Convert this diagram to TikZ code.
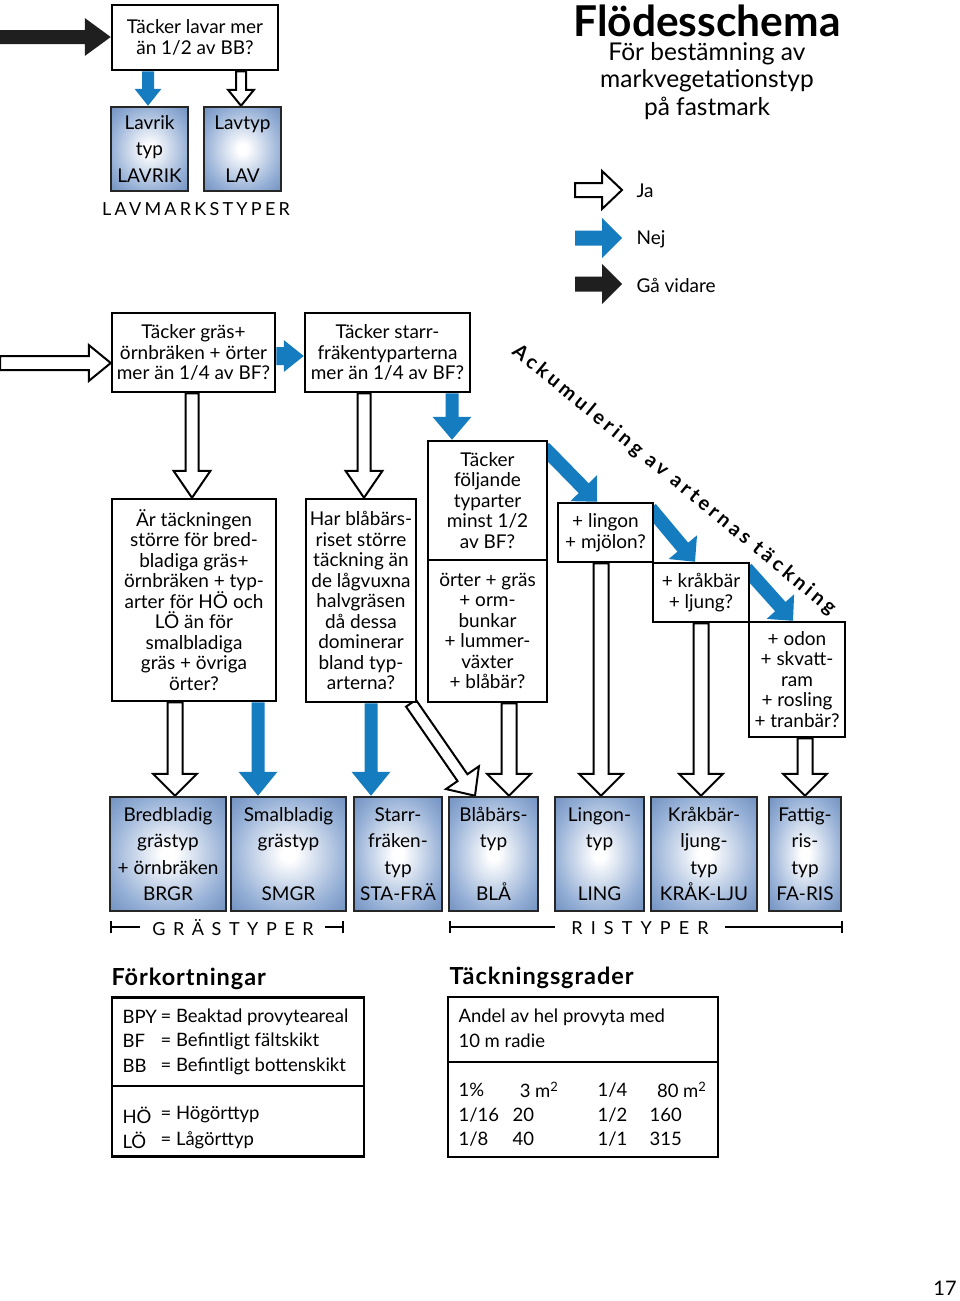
\documentclass[tikz,border=0pt]{standalone}
\usepackage{fontspec}
\setmainfont{Lato}
\usetikzlibrary{calc}
\definecolor{nblue}{RGB}{22,124,192}
\definecolor{boxblue}{RGB}{112,144,192}
\definecolor{boxmid}{RGB}{150,176,214}
\pgfdeclareradialshading{boxshade}{\pgfpoint{0bp}{0bp}}{color(0bp)=(white); color(3bp)=(white); color(25bp)=(boxmid); color(36bp)=(boxblue); color(50bp)=(boxblue)}
\pgfdeclarelayer{bg}
\pgfdeclarelayer{paper}
\pgfsetlayers{paper,bg,main}
\newcommand\qfont{\fontsize{19}{20.5}\selectfont}
\newcommand\rfont{\fontsize{19}{26.3}\selectfont}
% block arrow: style, from, to, shaft half width, head half width, head length
\newcommand\barrow[6]{%
  \coordinate (hb) at ($(#3)!#6!(#2)$);
  \path[#1] ($(#2)!#4!90:(#3)$) -- ($(hb)!#4!90:(#3)$) -- ($(hb)!#5!90:(#3)$) -- (#3)
    -- ($(hb)!#5!-90:(#3)$) -- ($(hb)!#4!-90:(#3)$) -- ($(#2)!#4!-90:(#3)$) -- cycle;}
\begin{document}
\begin{tikzpicture}[x=1pt,y=-1pt,
  every node/.style={font=\qfont},
  qbox/.style={draw, line width=2.5pt, fill=white, align=center, inner sep=0pt},
  rbox/.style={draw=black!85, line width=2.5pt, shading=boxshade, align=center, inner sep=0pt, font=\rfont},
  ja/.style={draw=black, fill=white, line width=2pt, line join=miter, miter limit=20},
  nej/.style={fill=nblue},
  go/.style={fill=black!88},
  tbl/.style={draw, line width=2.5pt, inner sep=0pt},
  span/.style={line width=1.3pt}]
\begin{pgfonlayer}{paper}
\fill[white] (0,0) rectangle (960,1301);
\end{pgfonlayer}
\useasboundingbox (0,0) rectangle (960,1301);

% ---------- title and legend ----------
\node[font=\fontsize{42.5}{42}\selectfont\bfseries] (title) at (707,21) {Flödesschema};
\node[font=\fontsize{24.5}{27.5}\selectfont, align=center] (sub) at (707,81) {För bestämning av\\markvegetationstyp\\på fastmark};
\coordinate (lj1) at (575,190); \coordinate (lj2) at (622,190);
\coordinate (ln1) at (575,238); \coordinate (ln2) at (622,238);
\coordinate (lg1) at (575,284); \coordinate (lg2) at (622,284);
\barrow{ja}{lj1}{lj2}{7pt}{19pt}{20pt}
\barrow{nej}{ln1}{ln2}{7.5pt}{20pt}{20pt}
\barrow{go}{lg1}{lg2}{7.5pt}{20pt}{20pt}
\node[anchor=west] (lja) at (633,191) {Ja};
\node[anchor=west] (lnej) at (633,239) {Nej};
\node[anchor=west] (lgo) at (633,285) {Gå vidare};

% ---------- question boxes ----------
\node[qbox, minimum width=166pt, minimum height=65pt] (q0) at (195,37.5) {Täcker lavar mer\\än 1/2 av BB?};
\node[qbox, minimum width=163pt, minimum height=79pt] (q1) at (193.5,352.5) {Täcker gräs+\\örnbräken + örter\\mer än 1/4 av BF?};
\node[qbox, minimum width=165pt, minimum height=79pt] (q2) at (387.5,352.5) {Täcker starr-\\fräkentyparterna\\mer än 1/4 av BF?};
\node[qbox, minimum width=119pt, minimum height=119pt] (q3) at (487.5,500.5) {Täcker\\följande\\typarter\\minst 1/2\\av BF?};
\node[qbox, minimum width=119pt, minimum height=142pt] (q3b) at (487.5,631) {örter + gräs\\+ orm-\\bunkar\\+ lummer-\\växter\\+ blåbär?};
\node[qbox, minimum width=164pt, minimum height=202pt] (q4) at (194,600) {Är täckningen\\större för bred-\\bladiga gräs+\\örnbräken + typ-\\arter för HÖ och\\LÖ än för\\smalbladiga\\gräs + övriga\\örter?};
\node[qbox, minimum width=110pt, minimum height=203pt] (q5) at (361,600.5) {Har blåbärs-\\riset större\\täckning än\\de lågvuxna\\halvgräsen\\då dessa\\dominerar\\bland typ-\\arterna?};
\node[qbox, minimum width=95pt, minimum height=59pt] (q6) at (605.5,532.5) {+ lingon\\+ mjölon?};
\node[qbox, minimum width=96pt, minimum height=59pt] (q7) at (701,592.5) {+ kråkbär\\+ ljung?};
\node[qbox, minimum width=96pt, minimum height=115pt] (q8) at (797,679.5) {+ odon\\+ skvatt-\\ram\\+ rosling\\+ tranbär?};

% ---------- result boxes ----------
\node[rbox, minimum width=77pt, minimum height=84pt, text depth=-7pt] (lavrik) at (149.5,149) {Lavrik\\typ\\LAVRIK};
\node[rbox, minimum width=77pt, minimum height=84pt, text depth=-7pt] (lav) at (242.5,149) {Lavtyp\\\mbox{}\\LAV};
\node[font=\fontsize{18}{18}\selectfont\addfontfeature{LetterSpace=18}] (lavm) at (196,209) {LAVMARKSTYPER};

\begin{scope}[every node/.append style={text depth=-5pt}]
\node[rbox, minimum width=116pt, minimum height=114pt] (r1) at (168,854) {Bredbladig\\grästyp\\+ örnbräken\\BRGR};
\node[rbox, minimum width=115pt, minimum height=114pt] (r2) at (288.5,854) {Smalbladig\\grästyp\\\mbox{}\\SMGR};
\node[rbox, minimum width=88pt, minimum height=114pt] (r3) at (398,854) {Starr-\\fräken-\\typ\\STA-FRÄ};
\node[rbox, minimum width=89pt, minimum height=114pt] (r4) at (493.5,854) {Blåbärs-\\typ\\\mbox{}\\BLÅ};
\node[rbox, minimum width=89pt, minimum height=114pt] (r5) at (599.5,854) {Lingon-\\typ\\\mbox{}\\LING};
\node[rbox, minimum width=106pt, minimum height=114pt] (r6) at (704,854) {Kråkbär-\\ljung-\\typ\\KRÅK-LJU};
\node[rbox, minimum width=72pt, minimum height=114pt] (r7) at (805,854) {Fattig-\\ris-\\typ\\FA-RIS};
\end{scope}

% ---------- group spans ----------
\node[font=\fontsize{18}{18}\selectfont\addfontfeature{LetterSpace=42}] (gras) at (233,928) {GRÄSTYPER};
\node[font=\fontsize{18}{18}\selectfont\addfontfeature{LetterSpace=45}] (ris) at (640,928) {RISTYPER};
\coordinate (g1) at (111,927); \coordinate (g2) at (343,927);
\coordinate (s1) at (450,927); \coordinate (s2) at (842,927);
\draw[span] ([yshift=-6pt]g1) -- ([yshift=6pt]g1);
\draw[span] (g1) -- (140,927);
\draw[span] (325,927) -- (g2);
\draw[span] ([yshift=-6pt]g2) -- ([yshift=6pt]g2);
\draw[span] ([yshift=-6pt]s1) -- ([yshift=6pt]s1);
\draw[span] (s1) -- (555,927);
\draw[span] (725,927) -- (s2);
\draw[span] ([yshift=-6pt]s2) -- ([yshift=6pt]s2);

% ---------- diagonal caption ----------
\node[rotate=-39.4, font=\fontsize{20}{20}\selectfont\bfseries\addfontfeature{LetterSpace=18}] (acc) at (674,480) {Ackumulering av arternas täckning};

% ---------- connectors ----------
\coordinate (xa) at (148,0); \coordinate (xb) at (241,0);
\coordinate (xc) at (192,0); \coordinate (xd) at (364,0);
\coordinate (xe) at (452,0);
\coordinate (xf) at (175,0); \coordinate (xg) at (258,0);
\coordinate (xh) at (371,0); \coordinate (xi) at (509,0);
\coordinate (xj) at (601,0); \coordinate (xk) at (701,0);
\coordinate (xl) at (805,0);
\coordinate (xm) at (411,0); \coordinate (xn) at (475,0);
\coordinate (xo) at (597,0); \coordinate (xp) at (695,0); \coordinate (xq) at (793,0);
\coordinate (yin) at (0,37); \coordinate (yin2) at (0,363); \coordinate (yr) at (0,356);
\coordinate (yd1) at (0,452); \coordinate (yd2) at (0,513); \coordinate (yd3) at (0,573);
\begin{pgfonlayer}{bg}
\coordinate (a0) at (q0.west |- yin);
\barrow{go}{yin}{a0}{7pt}{19pt}{26pt}
\coordinate (a1) at (q0.south -| xa); \coordinate (b1) at (lavrik.north -| xa);
\barrow{nej}{a1}{b1}{6pt}{13.5pt}{17pt}
\coordinate (a2) at (q0.south -| xb); \coordinate (b2) at (lav.north -| xb);
\barrow{ja}{a2}{b2}{5pt}{13pt}{16pt}
\coordinate (a3) at (q1.west |- yin2);
\barrow{ja}{yin2}{a3}{7pt}{18pt}{22pt}
\coordinate (a4) at (q1.east |- yr); \coordinate (b4) at (q2.west |- yr);
\barrow{nej}{a4}{b4}{9pt}{16pt}{20pt}
\coordinate (a5) at (q2.south -| xe); \coordinate (b5) at (q3.north -| xe);
\barrow{nej}{a5}{b5}{6.5pt}{19.5pt}{23pt}
\coordinate (a6) at (q1.south -| xc); \coordinate (b6) at (q4.north -| xc);
\barrow{ja}{a6}{b6}{6.5pt}{18.5pt}{27pt}
\coordinate (a7) at (q2.south -| xd); \coordinate (b7) at (q5.north -| xd);
\barrow{ja}{a7}{b7}{6.5pt}{18.5pt}{27pt}
% diagonal accumulation arrows
\coordinate (e8) at (q3.east |- yd1); \coordinate (b8) at (q6.north -| xo);
\coordinate (a8) at ($(e8)!-6pt!(b8)$);
\barrow{nej}{a8}{b8}{7pt}{18.5pt}{19pt}
\coordinate (e9) at (q6.east |- yd2); \coordinate (b9) at (q7.north -| xp);
\coordinate (a9) at ($(e9)!-6pt!(b9)$);
\barrow{nej}{a9}{b9}{7pt}{18.5pt}{19pt}
\coordinate (e10) at (q7.east |- yd3); \coordinate (b10) at (q8.north -| xq);
\coordinate (a10) at ($(e10)!-6pt!(b10)$);
\barrow{nej}{a10}{b10}{7pt}{18.5pt}{19pt}
% down to result boxes
\coordinate (a11) at (q4.south -| xf); \coordinate (b11) at (r1.north -| xf);
\barrow{ja}{a11}{b11}{7.5pt}{22pt}{22pt}
\coordinate (a12) at (q4.south -| xg); \coordinate (b12) at (r2.north -| xg);
\barrow{nej}{a12}{b12}{6.5pt}{19.5pt}{24pt}
\coordinate (a13) at (q5.south -| xh); \coordinate (b13) at (r3.north -| xh);
\barrow{nej}{a13}{b13}{6.5pt}{19.5pt}{24pt}
\coordinate (a14) at (q5.south -| xm); \coordinate (b14) at (r4.north -| xn);
\barrow{ja}{a14}{b14}{6pt}{20pt}{22pt}
\coordinate (a15) at (q3b.south -| xi); \coordinate (b15) at (r4.north -| xi);
\barrow{ja}{a15}{b15}{7.5pt}{22pt}{22pt}
\coordinate (a16) at (q6.south -| xj); \coordinate (b16) at (r5.north -| xj);
\barrow{ja}{a16}{b16}{7.5pt}{22pt}{22pt}
\coordinate (a17) at (q7.south -| xk); \coordinate (b17) at (r6.north -| xk);
\barrow{ja}{a17}{b17}{7.5pt}{22pt}{22pt}
\coordinate (a18) at (q8.south -| xl); \coordinate (b18) at (r7.north -| xl);
\barrow{ja}{a18}{b18}{7.5pt}{22pt}{22pt}
\end{pgfonlayer}

% ---------- abbreviation table ----------
\node[anchor=west, font=\fontsize{23.5}{22}\selectfont\bfseries\addfontfeature{LetterSpace=4}] (fork) at (108,979) {Förkortningar};
\node[tbl, minimum width=252pt, minimum height=159pt] (abbr) at (238,1077) {};
\coordinate (d1) at (0,1086);
\draw[line width=2.5pt] (abbr.west |- d1) -- (abbr.east |- d1);
\begin{scope}[every node/.style={font=\fontsize{18.5}{20}\selectfont}]
\node[anchor=west] (k1) at (119,1017) {BPY};
\node[anchor=west] (k2) at (119,1041) {BF};
\node[anchor=west] (k3) at (119,1066) {BB};
\node[anchor=west] (k4) at (119,1115) {HÖ};
\node[anchor=west] (k5) at (119,1140) {LÖ};
\node[anchor=west] (v1) at (157,1017) {= Beaktad provyteareal};
\node[anchor=west] (v2) at (157,1041) {= Befintligt fältskikt};
\node[anchor=west] (v3) at (157,1066) {= Befintligt bottenskikt};
\node[anchor=west] (v4) at (157,1115) {= Högörttyp};
\node[anchor=west] (v5) at (157,1140) {= Lågörttyp};
\end{scope}

% ---------- coverage table ----------
\node[anchor=west, font=\fontsize{23.5}{22}\selectfont\bfseries\addfontfeature{LetterSpace=4}] (tack) at (446,978) {Täckningsgrader};
\node[tbl, minimum width=270pt, minimum height=160pt] (cov) at (583,1077) {};
\coordinate (d2) at (0,1062);
\draw[line width=2.5pt] (cov.west |- d2) -- (cov.east |- d2);
\begin{scope}[every node/.style={font=\fontsize{18.5}{20}\selectfont}]
\node[anchor=west] (c0) at (455,1017) {Andel av hel provyta med};
\node[anchor=west] (c00) at (455,1041) {10 m radie};
\node[anchor=west] (c1) at (455,1090) {1\%};
\node[anchor=east] (c2) at (562,1090) {3 m\textsuperscript{2}};
\node[anchor=west] (c3) at (594,1090) {1/4};
\node[anchor=east] (c4) at (710,1090) {80 m\textsuperscript{2}};
\node[anchor=west] (c5) at (455,1115) {1/16};
\node[anchor=west] (c6) at (509,1115) {20};
\node[anchor=west] (c7) at (594,1115) {1/2};
\node[anchor=west] (c8) at (646,1115) {160};
\node[anchor=west] (c9) at (455,1139) {1/8};
\node[anchor=west] (c10) at (509,1139) {40};
\node[anchor=west] (c11) at (594,1139) {1/1};
\node[anchor=west] (c12) at (646,1139) {315};
\end{scope}

\node[font=\fontsize{20}{20}\selectfont] (page) at (945,1288) {17};
\end{tikzpicture}
\end{document}
